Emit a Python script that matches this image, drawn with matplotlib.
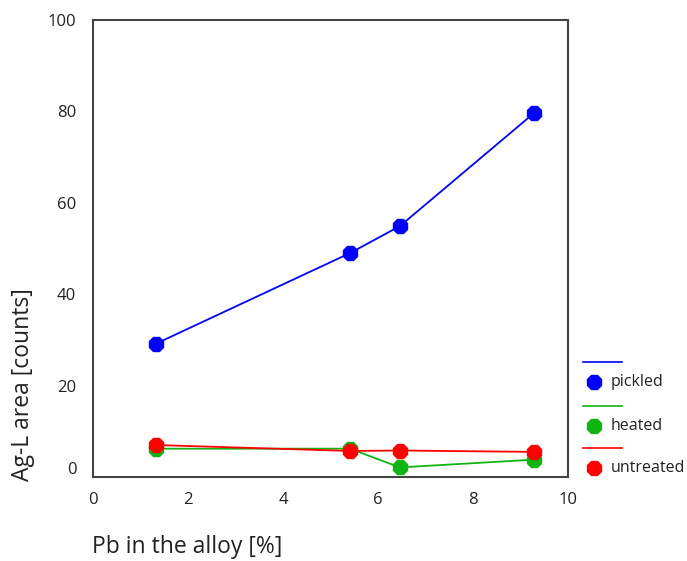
import matplotlib
matplotlib.use("Agg")
import matplotlib.pyplot as plt
from matplotlib.lines import Line2D
from matplotlib.transforms import ScaledTranslation

# Pb content of the alloys [%]
pb = [1.33, 5.41, 6.46, 9.28]

# Ag-L peak areas [counts]
pickled = [29.2, 49.0, 54.9, 79.6]
heated = [6.2, 6.2, 2.1, 3.8]
untreated = [7.0, 5.7, 5.8, 5.5]

series = [
    ("pickled", pickled, "#0000ff"),
    ("heated", heated, "#11b511"),
    ("untreated", untreated, "#ff0000"),
]


def main():
    plt.rcParams["font.family"] = ["Open Sans", "DejaVu Sans"]
    fig = plt.figure(figsize=(6.87, 5.61), dpi=100)
    ax = fig.add_axes([0.1354, 0.1497, 0.6914, 0.8146])

    for name, vals, col in series:
        ax.plot(pb, vals, color=col, lw=1.3, marker="8", ms=11.5,
                mec=col, mfc=col, label=name)

    ax.set_xlim(0, 10)
    ax.set_ylim(0, 100)
    ax.set_xticks([0, 2, 4, 6, 8, 10])
    ax.set_yticks([0, 20, 40, 60, 80, 100])
    ax.tick_params(length=0, labelsize=12, colors="#222222")
    ax.tick_params(axis="x", pad=11)
    ax.tick_params(axis="y", pad=12)
    for sp in ax.spines.values():
        sp.set_color("#444444")
        sp.set_linewidth(1.5)

    # the zero label sits a little above the bottom spine
    zero = ax.get_yticklabels()[0]
    zero.set_transform(zero.get_transform()
                       + ScaledTranslation(0, 9 / 100, fig.dpi_scale_trans))

    fig.text(0.134, 0.025, "Pb in the alloy [%]", fontsize=16.5, color="#222222",
             ha="left", va="center")
    fig.text(0.033, 0.315, "Ag-L area [counts]", fontsize=16.5, color="#222222",
             rotation=90, ha="center", va="center")

    # legend drawn by hand: line on one row, marker and name on the next
    rows = [(0.319, "pickled"), (0.241, "heated"), (0.166, "untreated")]
    for (y, name), (_, _, col) in zip(rows, series):
        fig.add_artist(Line2D([0.848, 0.906], [y + 0.036, y + 0.036],
                              color=col, lw=1.2, transform=fig.transFigure))
        fig.add_artist(Line2D([0.864], [y], marker="8", ms=11, color=col,
                              transform=fig.transFigure))
        fig.text(0.889, y, name, fontsize=11.5, color="#222222", va="center")

    fig.savefig("out.png", dpi=100)


if __name__ == "__main__":
    main()
